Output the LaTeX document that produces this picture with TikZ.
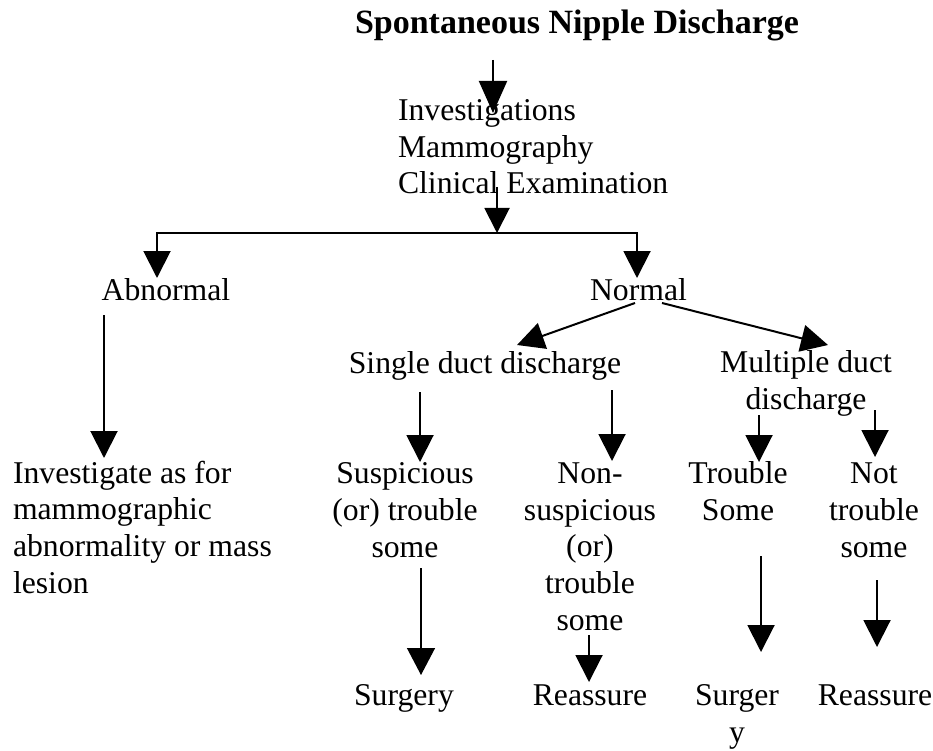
\documentclass[tikz,border=0pt]{standalone}
\usepackage{fontspec}
\setmainfont{Liberation Serif}
\usetikzlibrary{arrows.meta}
\begin{document}
\begin{tikzpicture}[x=1pt,y=-1pt,
  txt/.style={inner sep=0pt,outer sep=0pt,anchor=base,align=center,font=\fontsize{31.7}{36.6}\selectfont},
  ltxt/.style={txt,anchor=base west,align=left},
  conn/.style={line width=2pt},
  arr/.style={conn,-{Triangle[length=27pt,width=27pt]}},
  arrl/.style={conn,-{Triangle[length=32pt,width=28pt]}},
  arrs/.style={conn,-{Triangle[length=25pt,width=25pt]}},
  arrt/.style={line width=1.3pt,-{Triangle[length=27pt,width=28pt]}}]
\useasboundingbox[fill=white] (0,0) rectangle (933,751);
% (multi-line nodes are placed by the baseline of their last line)
\node[txt,font=\bfseries\fontsize{34}{40}\selectfont] (title) at (577,34) {Spontaneous Nipple Discharge};
\node[ltxt] (inv) at (398,194) {Investigations\\Mammography\\Clinical Examination};
\node[txt] (abn) at (166,300) {Abnormal};
\node[txt] (nor) at (638.5,300) {Normal};
\node[txt] (sgl) at (485,373) {Single duct discharge};
\node[txt] (mul) at (806,409) {Multiple duct\\discharge};
\node[ltxt] (invest) at (13,593) {Investigate as for\\mammographic\\abnormality or mass\\lesion};
\node[txt] (susp) at (405,557) {Suspicious\\(or) trouble\\some};
\node[txt] (nons) at (590,630) {Non-\\suspicious\\(or)\\trouble\\some};
\node[txt] (trs) at (738,520) {Trouble\\Some};
\node[txt] (nts) at (874,557) {Not\\trouble\\some};
\node[txt] (surg1) at (404,705) {Surgery};
\node[txt] (reas1) at (590,705) {Reassure};
\node[txt] (surg2) at (737,742) {Surger\\y};
\node[txt] (reas2) at (875,705) {Reassure};
\coordinate (split) at (497,233);
% connectors
\draw[arrl] ([shift={(-84,26)}]title.base) -- ([shift={(95,-81)}]inv.base west);
\draw[arrs] ([shift={(99,-7)}]inv.base west) -- (split);
\draw[arr] (split) -| ([shift={(-9,-22)}]abn.base);
\draw[arr] (split) -| ([shift={(-1.5,-22)}]nor.base);
\draw[arr] ([shift={(-62,15)}]abn.base) -- ([shift={(91,-135)}]invest.base west);
\draw[arr] ([shift={(-3.5,3)}]nor.base) -- ([shift={(32,-28)}]sgl.base);
\draw[arr] ([shift={(23.5,3)}]nor.base) -- ([shift={(22,-64)}]mul.base);
\draw[arr] ([shift={(-65,19)}]sgl.base) -- ([shift={(15,-95)}]susp.base);
\draw[arr] ([shift={(127,17)}]sgl.base) -- ([shift={(22,-169)}]nons.base);
\draw[arr] ([shift={(-47,6)}]mul.base) -- ([shift={(21,-58)}]trs.base);
\draw[arr] ([shift={(69,1)}]mul.base) -- ([shift={(1,-100)}]nts.base);
\draw[arrt] ([shift={(16,11)}]susp.base) -- ([shift={(17,-30)}]surg1.base);
\draw[arr] ([shift={(-1,5)}]nons.base) -- ([shift={(-1,-23)}]reas1.base);
\draw[arr] ([shift={(23,36)}]trs.base) -- ([shift={(24,-90)}]surg2.base);
\draw[arr] ([shift={(3,23)}]nts.base) -- ([shift={(2,-58)}]reas2.base);
\end{tikzpicture}
\end{document}
